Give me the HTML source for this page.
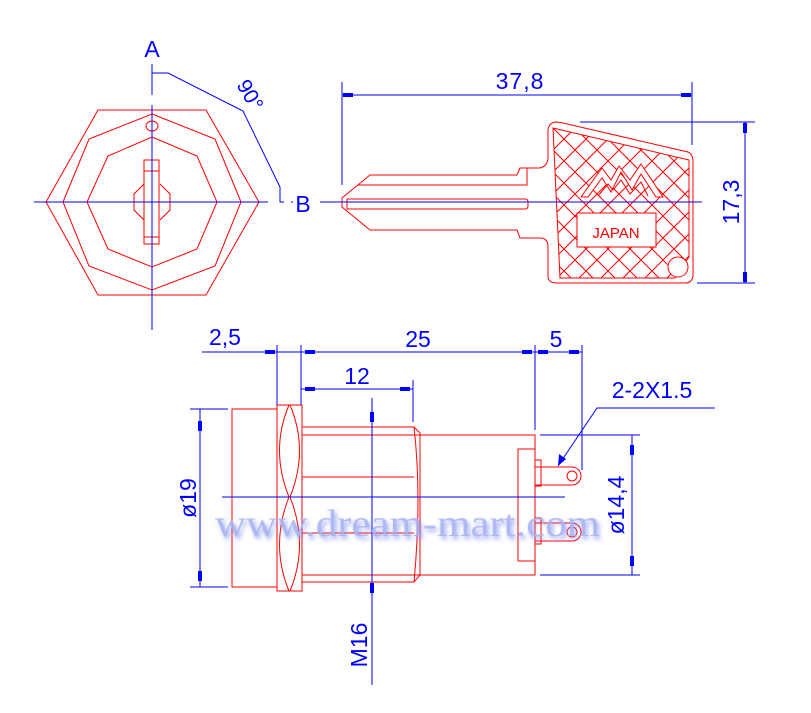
<!DOCTYPE html>
<html><head><style>
html,body{margin:0;padding:0;background:#fff;}
svg{display:block;}
</style></head><body>
<svg width="811" height="713" viewBox="0 0 811 713" xmlns="http://www.w3.org/2000/svg" font-family="Liberation Sans, sans-serif">
<defs>
<pattern id="hatch" patternUnits="userSpaceOnUse" width="22" height="22" patternTransform="translate(553,128)">
<path d="M0 0L22 22M22 0L0 22" stroke="#f00" stroke-width="1"/>
</pattern>
<clipPath id="hc"><path d="M553 128 L689 160 L689 257 L675 278 L560 278 Z"/></clipPath>
<filter id="blur"><feGaussianBlur stdDeviation="2.5"/></filter>
</defs>
<g fill="none" stroke-width="1">
<g stroke="#f00">
<polygon points="98,110 206,110 259,202 206,295 98,295 46,202"/>
<polygon points="152,114 215,139 241,202 215,266 152,290 89,266 63,202 89,139"/>
<polygon points="152,137 197,156 217,202 197,249 152,267 108,249 87,202 108,156"/>
<rect x="144" y="160" width="15" height="84"/>
<line x1="144" y1="171" x2="159" y2="171"/><line x1="144" y1="237" x2="159" y2="237"/>
<polyline points="144,184 134,194 134,210 144,220"/>
<polyline points="160,184 170,194 170,210 160,220"/>
<ellipse cx="152" cy="126" rx="6" ry="5"/>
</g>
<g stroke="#00f">
<line x1="34" y1="202" x2="268" y2="202"/>
<line x1="291" y1="202" x2="293" y2="202"/>
<line x1="320" y1="202" x2="330" y2="202"/>
<line x1="152" y1="64" x2="152" y2="95"/>
<line x1="152" y1="105" x2="152" y2="330"/>
<polyline points="152,73 168,73 243,111 280,187 280,202 284,202"/>
</g>
<g stroke="#f00">
<path d="M342 198 L370 175 L517 175 L520 168 L540 168 Q548 166 548 157 L548 130 Q549 122 557 122 L563 123 L688 152 Q693 154 693 162 L693 276 Q692 283 685 283 L557 283 Q548 283 548 276 L548 247 Q548 238 540 238 L520 238 L517 230 L370 230 L342 207 Z"/>
<path d="M553 128 L689 160 L689 257 L675 278 L560 278 Z"/>
<path d="M358 185 L527 185 L527 168"/>
<path d="M347 199 L525 199 Q528 199 528 202 L528 206 Q528 209 525 209 L347 209 Z"/>
<g clip-path="url(#hc)"><rect x="540" y="120" width="160" height="170" fill="url(#hatch)" stroke="none"/></g>
<rect x="577" y="213" width="79" height="34" fill="#fff"/>
<circle cx="678" cy="267" r="10" fill="#fff"/>
<polyline points="581,197 602,168 611,180 619,166 630,180 641,164 663,197 656,197 641,174 632,190 621,172 611,192 602,178 588,197 581,197" fill="#fff"/>
<polyline points="598,196 608,184 613,190 621,180 630,194 641,182 648,196"/>
</g>
<text x="616" y="238" fill="#f00" font-size="15" text-anchor="middle" stroke="none">JAPAN</text>
<g stroke="#00f">
<line x1="342" y1="82" x2="342" y2="185"/>
<line x1="692" y1="82" x2="692" y2="145"/>
<line x1="342" y1="95" x2="692" y2="95"/>
<line x1="580" y1="122" x2="755" y2="122"/>
<line x1="697" y1="283" x2="755" y2="283"/>
<line x1="745" y1="122" x2="745" y2="283"/>
<line x1="330" y1="202" x2="702" y2="202"/>
</g>
<g fill="#00f" stroke="none">
<rect x="343" y="93" width="10" height="4"/><rect x="681" y="93" width="10" height="4"/>
<rect x="743" y="123" width="4" height="10"/><rect x="743" y="272" width="4" height="10"/>
</g>
<g stroke="#f00">
<rect x="232" y="409" width="45" height="178"/>
<rect x="277" y="405" width="25" height="186"/>
<path d="M289 405 Q270 450 289 497 Q270 545 289 591"/>
<path d="M290 405 Q309 450 290 497 Q309 545 290 591"/>
<path d="M302 427 L414 427 L420 433 L420 575 L414 582 L302 582"/>
<line x1="302" y1="477" x2="414" y2="477"/>
<line x1="302" y1="533" x2="414" y2="533"/>
<path d="M414 427 Q422 497 414 582"/>
<rect x="302" y="435" width="233" height="140"/>
<rect x="518" y="449" width="17" height="112"/>
<rect x="535" y="460" width="6" height="26"/>
<rect x="535" y="518" width="6" height="26"/>
<path d="M535 467 L572 467 A9 9 0 0 1 572 485 L535 485"/>
<path d="M535 523 L572 523 A9 9 0 0 1 572 541 L535 541"/>
<circle cx="572" cy="476" r="5"/><circle cx="572" cy="532" r="5"/>
</g>
<g stroke="#00f">
<line x1="202" y1="352" x2="582" y2="352"/>
<line x1="277" y1="345" x2="277" y2="405"/>
<line x1="301" y1="345" x2="301" y2="405"/>
<line x1="535" y1="345" x2="535" y2="430"/>
<line x1="582" y1="345" x2="582" y2="470"/>
<line x1="301" y1="389" x2="413" y2="389"/>
<line x1="413" y1="380" x2="413" y2="422"/>
<line x1="190" y1="409" x2="228" y2="409"/>
<line x1="190" y1="587" x2="228" y2="587"/>
<line x1="200" y1="409" x2="200" y2="587"/>
<line x1="540" y1="435" x2="640" y2="435"/>
<line x1="540" y1="575" x2="640" y2="575"/>
<line x1="632" y1="435" x2="632" y2="575"/>
<line x1="372" y1="398" x2="372" y2="685"/>
<line x1="222" y1="497" x2="565" y2="497"/>
<polyline points="715,408 597,408 558,466"/>
</g>
<g fill="#00f" stroke="none">
<rect x="265" y="350" width="10" height="4"/><rect x="305" y="350" width="10" height="4"/>
<rect x="522" y="350" width="10" height="4"/><rect x="538" y="350" width="10" height="4"/><rect x="569" y="350" width="10" height="4"/>
<rect x="305" y="387" width="10" height="4"/><rect x="400" y="387" width="10" height="4"/>
<rect x="198" y="421" width="4" height="10"/><rect x="198" y="571" width="4" height="10"/>
<rect x="630" y="445" width="4" height="10"/><rect x="630" y="556" width="4" height="10"/>
<rect x="370" y="412" width="4" height="10"/><rect x="370" y="583" width="4" height="10"/>
<polygon points="558,466 559,454 566,459"/>
</g>
</g>
<g fill="#00f" stroke="none" font-size="23">
<text x="152" y="57" text-anchor="middle">A</text>
<text x="303" y="212" text-anchor="middle">B</text>
<text x="250" y="102" transform="rotate(60 250 95)" text-anchor="middle" font-size="21">90°</text>
<text x="520" y="89" text-anchor="middle" letter-spacing="1">37,8</text>
<text x="739" y="202" transform="rotate(-90 739 202)" text-anchor="middle">17,3</text>
<text x="225" y="345" text-anchor="middle">2,5</text>
<text x="418" y="347" text-anchor="middle">25</text>
<text x="556" y="347" text-anchor="middle">5</text>
<text x="357" y="384" text-anchor="middle">12</text>
<text x="652" y="398" text-anchor="middle">2-2X1.5</text>
<text x="196" y="498" transform="rotate(-90 196 498)" text-anchor="middle">ø19</text>
<text x="624" y="505" transform="rotate(-90 624 505)" text-anchor="middle">ø14,4</text>
<text x="367" y="645" transform="rotate(-90 367 645)" text-anchor="middle">M16</text>
</g>
<g font-family="Liberation Serif, serif" font-size="38">
<text x="217" y="539" textLength="385" lengthAdjust="spacingAndGlyphs" fill="#7f8fee" filter="url(#blur)" opacity="0.8">www.dream-mart.com</text>
<text x="215" y="536" textLength="385" lengthAdjust="spacingAndGlyphs" fill="#a9b4f2" opacity="0.85">www.dream-mart.com</text>
</g>
</svg>
</body></html>
